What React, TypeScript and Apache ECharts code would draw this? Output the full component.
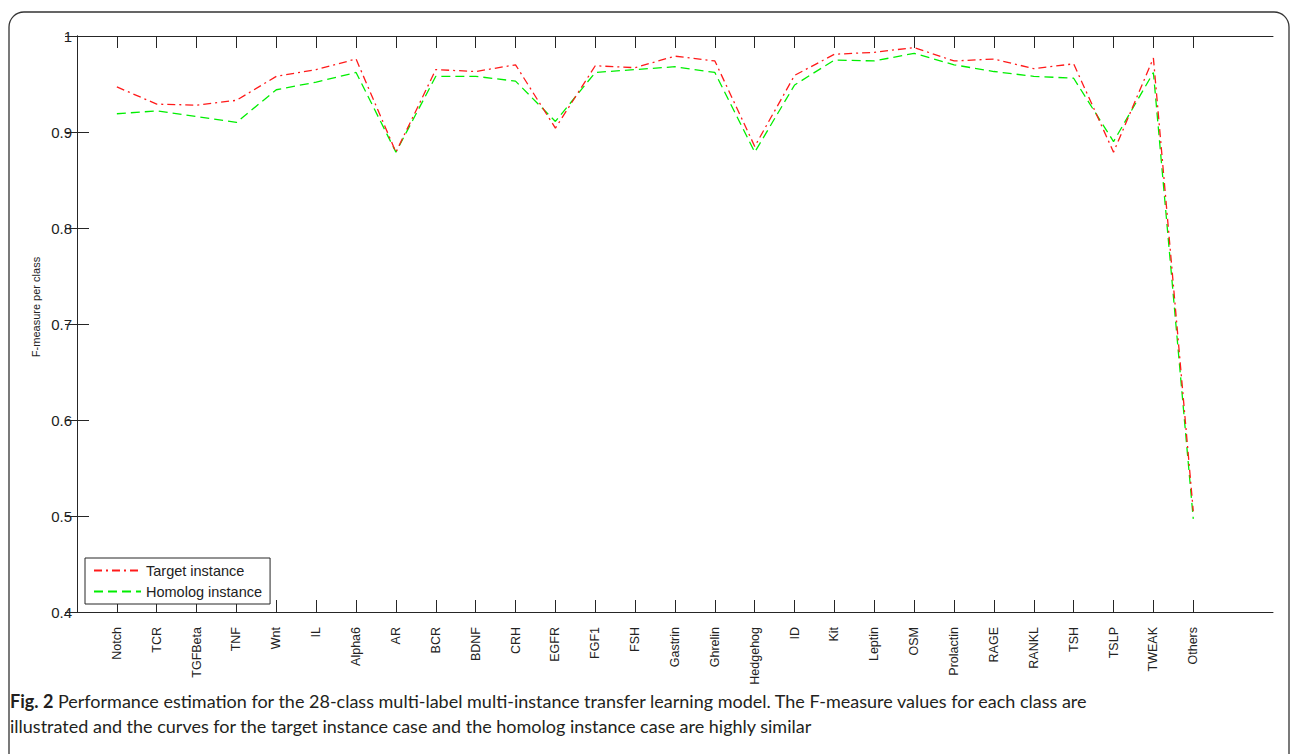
import React, { useEffect, useRef } from "react";
import * as echarts from "echarts";

const categories = [
  "Notch", "TCR", "TGFBeta", "TNF", "Wnt", "IL", "Alpha6", "AR", "BCR", "BDNF",
  "CRH", "EGFR", "FGF1", "FSH", "Gastrin", "Ghrelin", "Hedgehog", "ID", "Kit", "Leptin",
  "OSM", "Prolactin", "RAGE", "RANKL", "TSH", "TSLP", "TWEAK", "Others",
];

const targetValues = [
  0.947, 0.929, 0.928, 0.933, 0.958, 0.965, 0.976, 0.879, 0.965, 0.963,
  0.970, 0.904, 0.969, 0.967, 0.979, 0.974, 0.885, 0.959, 0.981, 0.983,
  0.988, 0.974, 0.976, 0.966, 0.971, 0.879, 0.977, 0.505,
];

const homologValues = [
  0.919, 0.922, 0.916, 0.910, 0.944, 0.952, 0.962, 0.879, 0.958, 0.958,
  0.953, 0.911, 0.962, 0.965, 0.968, 0.962, 0.879, 0.949, 0.975, 0.974,
  0.982, 0.970, 0.963, 0.958, 0.956, 0.890, 0.962, 0.497,
];

const yTicks = [0.4, 0.5, 0.6, 0.7, 0.8, 0.9, 1];

const yAxisTitle = "F-measure per class";
const captionBold = "Fig. 2";
const captionLine1 =
  " Performance estimation for the 28-class multi-label multi-instance transfer learning model. The F-measure values for each class are";
const captionLine2 =
  "illustrated and the curves for the target instance case and the homolog instance case are highly similar";

const FONT = "'Liberation Sans', Arial, sans-serif";
const CAPTION_FONT = "Lato, 'Open Sans', sans-serif";
const AXIS_COLOR = "#262626";

export default function App() {
  const ref = useRef<HTMLDivElement>(null);

  useEffect(() => {
    if (!ref.current) return;
    const chart = echarts.init(ref.current, null, { renderer: "svg" });
    const tickPositions = categories.map((_, i) => i + 1);
    const toPairs = (vals: number[]) => vals.map((v, i) => [i + 1, v]);

    const baseX = {
      type: "value" as const,
      min: 0,
      max: 30,
      splitLine: { show: false },
      axisLine: { show: true, lineStyle: { color: AXIS_COLOR, width: 1 } },
      axisTick: {
        show: true,
        inside: true,
        length: 12,
        customValues: tickPositions,
        lineStyle: { color: AXIS_COLOR, width: 1 },
      },
    };
    const baseY = {
      type: "value" as const,
      min: yTicks[0],
      max: yTicks[yTicks.length - 1],
      interval: 0.1,
      splitLine: { show: false },
      axisLine: { show: true, lineStyle: { color: AXIS_COLOR, width: 1 } },
      axisTick: { show: true, inside: true, length: 12, lineStyle: { color: AXIS_COLOR, width: 1 } },
    };

    chart.setOption({
      animation: false,
      backgroundColor: "#ffffff",
      grid: { left: 77, top: 36, right: 19, bottom: 142, containLabel: false },
      xAxis: [
        {
          ...baseX,
          position: "bottom",
          axisLabel: {
            show: true,
            customValues: tickPositions,
            rotate: 90,
            margin: 15,
            fontSize: 12.5,
            fontFamily: FONT,
            color: "#222",
            formatter: (v: number) => categories[Math.round(v) - 1] ?? "",
          },
        },
        { ...baseX, position: "top", axisLabel: { show: false } },
      ],
      yAxis: [
        {
          ...baseY,
          position: "left",
          axisLabel: {
            show: true,
            margin: 5,
            fontSize: 15,
            fontFamily: FONT,
            color: "#222",
            formatter: (v: number) => String(+v.toFixed(1)),
          },
        },
        { ...baseY, position: "right", axisLabel: { show: false } },
      ],
      legend: {
        show: true,
        orient: "vertical",
        left: 85,
        top: 558,
        padding: [5, 8, 5, 8],
        itemGap: 6,
        itemWidth: 47,
        itemHeight: 14,
        backgroundColor: "#ffffff",
        borderColor: AXIS_COLOR,
        borderWidth: 1,
        borderRadius: 0,
        itemStyle: { opacity: 0 },
        textStyle: { fontSize: 14.5, fontFamily: FONT, color: "#222" },
        data: ["Target instance", "Homolog instance"],
      },
      series: [
        {
          name: "Target instance",
          type: "line",
          xAxisIndex: 0,
          yAxisIndex: 0,
          data: toPairs(targetValues),
          symbol: "none",
          showSymbol: false,
          lineStyle: { color: "#ff1a1a", width: 1.3, type: [8, 4, 2, 4] },
          itemStyle: { color: "#ff1a1a" },
          z: 3,
        },
        {
          name: "Homolog instance",
          type: "line",
          xAxisIndex: 0,
          yAxisIndex: 0,
          data: toPairs(homologValues),
          symbol: "none",
          showSymbol: false,
          lineStyle: { color: "#00ee00", width: 1.3, type: [9, 5] },
          itemStyle: { color: "#00ee00" },
          z: 2,
        },
      ],
      graphic: [
        {
          type: "rect",
          shape: { x: 9, y: 12, width: 1280, height: 780, r: 15 },
          style: { fill: "none", stroke: "#333", lineWidth: 1.3 },
          silent: true,
          z: -10,
        },
        {
          type: "text",
          x: 36,
          y: 307,
          rotation: Math.PI / 2,
          style: {
            text: yAxisTitle,
            fontSize: 11,
            fontFamily: FONT,
            fill: "#222",
            align: "center",
            verticalAlign: "middle",
          },
        },
        {
          type: "text",
          x: 10,
          y: 692,
          style: {
            text: "{b|" + captionBold + "}" + captionLine1,
            fontSize: 18,
            fontFamily: CAPTION_FONT,
            fill: "#231f20",
            rich: {
              b: { fontWeight: "bold", fontSize: 18, fontFamily: CAPTION_FONT, fill: "#231f20" },
            },
          },
        },
        {
          type: "text",
          x: 10,
          y: 717,
          style: {
            text: captionLine2,
            fontSize: 18,
            fontFamily: CAPTION_FONT,
            fill: "#231f20",
          },
        },
      ],
    });
    return () => chart.dispose();
  }, []);

  return (
    <div
      ref={ref}
      style={{ position: "absolute", left: 0, top: 0, width: 1292, height: 754 }}
    />
  );
}
